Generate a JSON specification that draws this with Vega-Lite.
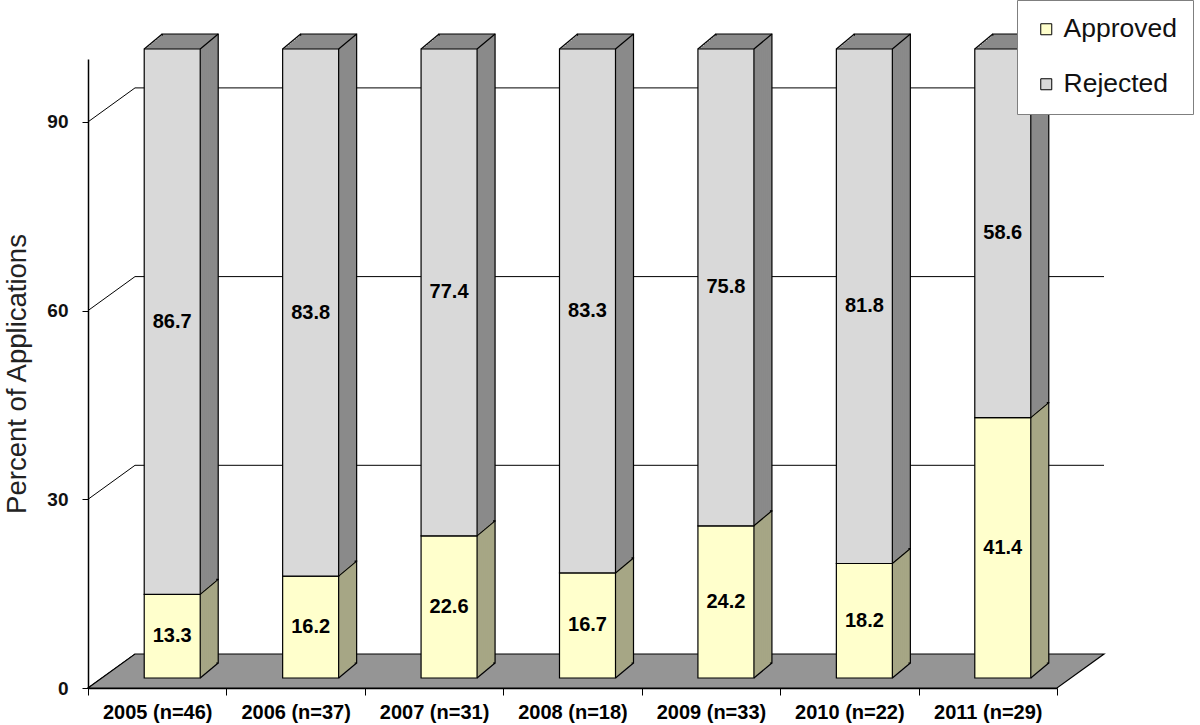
{
  "$schema": "https://vega.github.io/schema/vega-lite/v6.json",
  "width": 969,
  "height": 629,
  "autosize": {"type": "none"},
  "padding": {"left": 88, "top": 59, "right": 143, "bottom": 37},
  "background": "white",
  "config": {
    "view": {"stroke": null},
    "font": "Liberation Sans",
    "axis": {"domainColor": "#000", "domainWidth": 1.5, "tickColor": "#000", "labelColor": "#111", "titleColor": "#222"}
  },
  "data": {"values": [
    {"year": "2005 (n=46)", "status": "Approved", "value": 13.3, "order": 1},
    {"year": "2005 (n=46)", "status": "Rejected", "value": 86.7, "order": 2},
    {"year": "2006 (n=37)", "status": "Approved", "value": 16.2, "order": 1},
    {"year": "2006 (n=37)", "status": "Rejected", "value": 83.8, "order": 2},
    {"year": "2007 (n=31)", "status": "Approved", "value": 22.6, "order": 1},
    {"year": "2007 (n=31)", "status": "Rejected", "value": 77.4, "order": 2},
    {"year": "2008 (n=18)", "status": "Approved", "value": 16.7, "order": 1},
    {"year": "2008 (n=18)", "status": "Rejected", "value": 83.3, "order": 2},
    {"year": "2009 (n=33)", "status": "Approved", "value": 24.2, "order": 1},
    {"year": "2009 (n=33)", "status": "Rejected", "value": 75.8, "order": 2},
    {"year": "2010 (n=22)", "status": "Approved", "value": 18.2, "order": 1},
    {"year": "2010 (n=22)", "status": "Rejected", "value": 81.8, "order": 2},
    {"year": "2011 (n=29)", "status": "Approved", "value": 41.4, "order": 1},
    {"year": "2011 (n=29)", "status": "Rejected", "value": 58.6, "order": 2}
  ]},
  "transform": [
    {"stack": "value", "groupby": ["year"], "sort": [{"field": "order", "order": "ascending"}], "as": ["y0", "y1"]},
    {"calculate": "(datum.y0 + datum.y1) / 2", "as": "mid"}
  ],
  "layer": [
    {
      "data": {"values": [{"v": 0}, {"v": 30}, {"v": 60}, {"v": 90}]},
      "mark": {"type": "rule", "color": "#000", "strokeWidth": 1, "x2Offset": 47, "y2Offset": -34},
      "encoding": {
        "x": {"datum": "2005 (n=46)", "type": "nominal", "bandPosition": 0, "scale": {"paddingInner": 0, "paddingOuter": 0},
          "axis": {"title": null, "labelAngle": 0, "tickBand": "extent", "labelFontSize": 20, "labelFontWeight": "bold", "labelColor": "#000", "tickSize": 7, "labelPadding": 7}},
        "x2": {"datum": "2005 (n=46)", "bandPosition": 0},
        "y": {"field": "v", "type": "quantitative", "scale": {"domain": [0, 100], "nice": false}, "axis": {"values": [0, 30, 60, 90], "grid": false, "title": "Percent of Applications", "titleFontSize": 27.5, "titleFontWeight": "normal", "titlePadding": 15, "labelFontSize": 19, "labelFontWeight": "bold", "tickSize": 6, "labelPadding": 14}},
        "y2": {"field": "v"}
      }
    },
    {
      "data": {"values": [{"v": 30}, {"v": 60}, {"v": 90}]},
      "mark": {"type": "rule", "color": "#000", "strokeWidth": 1, "xOffset": 47, "x2Offset": 47, "yOffset": -34, "y2Offset": -34},
      "encoding": {
        "x": {"datum": "2005 (n=46)", "type": "nominal", "bandPosition": 0},
        "x2": {"datum": "2011 (n=29)", "bandPosition": 1},
        "y": {"field": "v", "type": "quantitative"},
        "y2": {"field": "v"}
      }
    },
    {
      "data": {"values": [{"part": "floor"}]},
      "mark": {"type": "point", "filled": true, "fill": "#959595", "fillOpacity": 1, "stroke": "#000", "strokeWidth": 1.2, "opacity": 1, "size": 1032256, "shape": "M -1 0.0335 L 0.9075 0.0335 L 1 -0.0335 L -0.9075 -0.0335 Z", "xOffset": 23.5, "yOffset": -17},
      "encoding": {
        "x": {"datum": "2008 (n=18)", "type": "nominal"},
        "y": {"datum": 0}
      }
    },
    {
      "mark": {"type": "bar", "width": 56, "xOffset": 33, "yOffset": -25, "y2Offset": -25, "stroke": "#000", "strokeWidth": 1.2},
      "encoding": {"x": {"field": "year", "type": "nominal"}, "y": {"field": "y1", "type": "quantitative"}, "y2": {"field": "y0"}, "fill": {"condition": {"test": "datum.status === 'Approved'", "value": "#a6a685"}, "value": "#8a8a8a"}}
    },
    {
      "mark": {"type": "bar", "width": 56, "xOffset": 31, "yOffset": -23.33, "y2Offset": -23.33, "strokeWidth": 0},
      "encoding": {"x": {"field": "year", "type": "nominal"}, "y": {"field": "y1", "type": "quantitative"}, "y2": {"field": "y0"}, "fill": {"condition": {"test": "datum.status === 'Approved'", "value": "#a6a685"}, "value": "#8a8a8a"}}
    },
    {
      "mark": {"type": "bar", "width": 56, "xOffset": 29, "yOffset": -21.67, "y2Offset": -21.67, "strokeWidth": 0},
      "encoding": {"x": {"field": "year", "type": "nominal"}, "y": {"field": "y1", "type": "quantitative"}, "y2": {"field": "y0"}, "fill": {"condition": {"test": "datum.status === 'Approved'", "value": "#a6a685"}, "value": "#8a8a8a"}}
    },
    {
      "mark": {"type": "bar", "width": 56, "xOffset": 27, "yOffset": -20, "y2Offset": -20, "strokeWidth": 0},
      "encoding": {"x": {"field": "year", "type": "nominal"}, "y": {"field": "y1", "type": "quantitative"}, "y2": {"field": "y0"}, "fill": {"condition": {"test": "datum.status === 'Approved'", "value": "#a6a685"}, "value": "#8a8a8a"}}
    },
    {
      "mark": {"type": "bar", "width": 56, "xOffset": 25, "yOffset": -18.33, "y2Offset": -18.33, "strokeWidth": 0},
      "encoding": {"x": {"field": "year", "type": "nominal"}, "y": {"field": "y1", "type": "quantitative"}, "y2": {"field": "y0"}, "fill": {"condition": {"test": "datum.status === 'Approved'", "value": "#a6a685"}, "value": "#8a8a8a"}}
    },
    {
      "mark": {"type": "bar", "width": 56, "xOffset": 23, "yOffset": -16.67, "y2Offset": -16.67, "strokeWidth": 0},
      "encoding": {"x": {"field": "year", "type": "nominal"}, "y": {"field": "y1", "type": "quantitative"}, "y2": {"field": "y0"}, "fill": {"condition": {"test": "datum.status === 'Approved'", "value": "#a6a685"}, "value": "#8a8a8a"}}
    },
    {
      "mark": {"type": "bar", "width": 56, "xOffset": 21, "yOffset": -15, "y2Offset": -15, "strokeWidth": 0},
      "encoding": {"x": {"field": "year", "type": "nominal"}, "y": {"field": "y1", "type": "quantitative"}, "y2": {"field": "y0"}, "fill": {"condition": {"test": "datum.status === 'Approved'", "value": "#a6a685"}, "value": "#8a8a8a"}}
    },
    {
      "mark": {"type": "bar", "width": 56, "xOffset": 19, "yOffset": -13.33, "y2Offset": -13.33, "strokeWidth": 0},
      "encoding": {"x": {"field": "year", "type": "nominal"}, "y": {"field": "y1", "type": "quantitative"}, "y2": {"field": "y0"}, "fill": {"condition": {"test": "datum.status === 'Approved'", "value": "#a6a685"}, "value": "#8a8a8a"}}
    },
    {
      "mark": {"type": "bar", "width": 56, "xOffset": 17, "yOffset": -11.67, "y2Offset": -11.67, "strokeWidth": 0},
      "encoding": {"x": {"field": "year", "type": "nominal"}, "y": {"field": "y1", "type": "quantitative"}, "y2": {"field": "y0"}, "fill": {"condition": {"test": "datum.status === 'Approved'", "value": "#a6a685"}, "value": "#8a8a8a"}}
    },
    {
      "mark": {"type": "rule", "color": "#000", "strokeWidth": 1.2, "xOffset": 43, "x2Offset": 61, "yOffset": -10, "y2Offset": -25},
      "encoding": {"x": {"field": "year", "type": "nominal"}, "x2": {"field": "year"}, "y": {"field": "y1", "type": "quantitative"}, "y2": {"field": "y1"}}
    },
    {
      "transform": [{"filter": "datum.status === 'Approved'"}],
      "mark": {"type": "rule", "color": "#000", "strokeWidth": 1.2, "xOffset": 43, "x2Offset": 61, "yOffset": -10, "y2Offset": -25},
      "encoding": {"x": {"field": "year", "type": "nominal"}, "x2": {"field": "year"}, "y": {"field": "y0", "type": "quantitative"}, "y2": {"field": "y0"}}
    },
    {
      "transform": [{"filter": "datum.status === 'Rejected'"}],
      "mark": {"type": "rule", "color": "#000", "strokeWidth": 1.2, "xOffset": -13, "x2Offset": 5, "yOffset": -10, "y2Offset": -25},
      "encoding": {"x": {"field": "year", "type": "nominal"}, "x2": {"field": "year"}, "y": {"field": "y1", "type": "quantitative"}, "y2": {"field": "y1"}}
    },
    {
      "mark": {"type": "bar", "width": 56, "xOffset": 15, "yOffset": -10, "y2Offset": -10, "stroke": "#000", "strokeWidth": 1.2, "opacity": 1},
      "encoding": {
        "x": {"field": "year", "type": "nominal"},
        "y": {"field": "y1", "type": "quantitative"},
        "y2": {"field": "y0"},
        "color": {
          "field": "status", "type": "nominal",
          "scale": {"domain": ["Approved", "Rejected"], "range": ["#ffffcc", "#d9d9d9"]},
          "legend": {
            "title": null, "orient": "none", "legendX": 929, "legendY": -59,
            "symbolType": "square", "symbolSize": 121, "symbolStrokeColor": "#000", "symbolStrokeWidth": 1, "symbolOpacity": 1,
            "labelFontSize": 26.5, "labelColor": "#111", "labelOffset": 4, "rowPadding": 28, "padding": 16,
            "strokeColor": "#7f7f7f", "fillColor": "#ffffff"
          }
        }
      }
    },
    {
      "mark": {"type": "text", "xOffset": 15, "yOffset": -10, "fontSize": 20, "fontWeight": "bold", "color": "#000", "baseline": "middle", "align": "center"},
      "encoding": {
        "x": {"field": "year", "type": "nominal"},
        "y": {"field": "mid", "type": "quantitative"},
        "text": {"field": "value", "type": "quantitative", "format": ".1f"}
      }
    }
  ]
}
